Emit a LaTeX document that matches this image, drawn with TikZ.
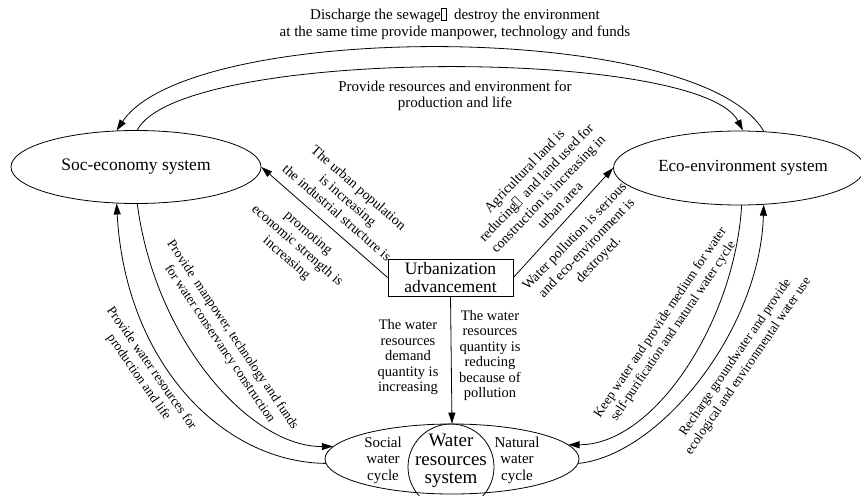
\documentclass[tikz,border=0pt]{standalone}
\usepackage{fontspec}
\setmainfont{Liberation Serif}
\usetikzlibrary{shapes.geometric,arrows.meta}
\newcommand{\tofu}{{\fboxsep=0pt\fboxrule=0.5pt\fbox{\rule{0pt}{0.72em}\hspace{0.32em}}}}
\begin{document}
\begin{tikzpicture}[x=1pt,y=-1pt, line width=0.8pt,
  arr/.style={-{Triangle[length=11pt,width=7pt]}},
  sys/.style={draw, ellipse, inner sep=0pt},
  lbl/.style={align=center, inner sep=0pt, font=\fontsize{14}{16.5}\selectfont},
  clbl/.style={align=center, inner sep=0pt, font=\fontsize{13.3}{15.5}\selectfont},
  vlbl/.style={align=center, inner sep=0pt, font=\fontsize{14.5}{15.5}\selectfont},
  ttxt/.style={align=center, inner sep=0pt, font=\fontsize{15}{17}\selectfont}
  ]
\useasboundingbox (0,0) rectangle (861,495);

% systems
\node[sys, minimum width=250pt, minimum height=73pt, font=\fontsize{17.5}{20}\selectfont] (soc) at (136,167) {Soc-economy system};
\node[sys, minimum width=244pt, minimum height=74pt, font=\fontsize{17}{20}\selectfont] (eco) at (739,168) {\hspace*{8pt}Eco-environment system};
\node[draw, rectangle, minimum width=125pt, minimum height=37pt, inner sep=0pt, align=center,
      font=\fontsize{17.5}{17.5}\selectfont] (urb) at (450.5,277.5) {Urbanization\\advancement};

\begin{scope}
\clip (0,0) rectangle (861,495);
\node[sys, minimum width=254pt, minimum height=70pt] (wr) at (452,459) {};
\node[draw, circle, minimum size=86pt, inner sep=0pt] (wc) at (451,467) {};
\end{scope}
\node[align=center, inner sep=0pt, font=\fontsize{19}{18.5}\selectfont] (wrt) at (451,461) {Water\\resources\\system};
\node[align=center, inner sep=0pt, font=\fontsize{15}{16.5}\selectfont] (swc) at (383,460) {Social\\water\\cycle};
\node[align=center, inner sep=0pt, font=\fontsize{15}{16.5}\selectfont] (nwc) at (517,460) {Natural\\water\\cycle};

% top arcs
\draw[arr] (eco.56.5) .. controls (700,20) and (190,20) .. (soc.118);
\draw[arr] (soc.88) .. controls (180,47) and (700,47) .. (eco.84);
\node[ttxt] (t1) at (455,24) {Discharge the sewage\tofu\ \ destroy the environment\\at the same time provide manpower, technology and funds};
\node[ttxt, font=\fontsize{15}{15.5}\selectfont] (t2) at (455,96) {Provide resources and environment for\\production and life};

% urbanization arrows
\draw[arr] (urb.west) -- (soc.east);
\draw[arr] (urb.east) -- (eco.west);
\draw[arr] (urb.south) -- (wr.north);

\node[lbl, rotate=-41] (l1) at (348,200) {The urban population\\is increasing\\the industrial structure is};
\node[lbl, rotate=-41] (l2) at (297,246) {promoting\\economic strength is\\increasing};
\node[lbl, rotate=46] (l3) at (542,188) {Agricultural land is\\reducing\tofu\ \ and land used for\\construction is increasing in\\urban area};
\node[lbl, rotate=46] (l4) at (587,248.5) {Water pollution is serious\\and eco-environment is\\destroyed.};
\node[vlbl] (vl) at (408,357.5) {The water\\resources\\demand\\quantity is\\increasing};
\node[vlbl] (vr) at (490,355.5) {The water\\resources\\quantity is\\reducing\\because of\\pollution};

% left lower arcs
\draw[arr] (soc.272) .. controls (155,340) and (250,447) .. (wr.174);
\draw[arr] (wr.182) .. controls (220,462) and (125,360) .. (soc.242);
\node[clbl, rotate=-56] (l5) at (226,339.5) {Provide\ \ manpower, technology and funds\\for water conservancy construction};
\node[clbl, rotate=-55] (l6) at (145,373) {Provide water resources for\\production and life};

% right lower arcs
\draw[arr] (eco.274.6) .. controls (735,320) and (655,445) .. (wr.7);
\draw[arr] (wr.-2) .. controls (660,455) and (760,330) .. (eco.-56.5);
\node[clbl, rotate=56] (l7) at (667,327) {Keep water and provide medium for water\\self-purification and natural water cycle};
\node[clbl, rotate=55.5] (l8) at (742,362) {Recharge groundwater and provide\\ecological and environmental water use};
\end{tikzpicture}
\end{document}
